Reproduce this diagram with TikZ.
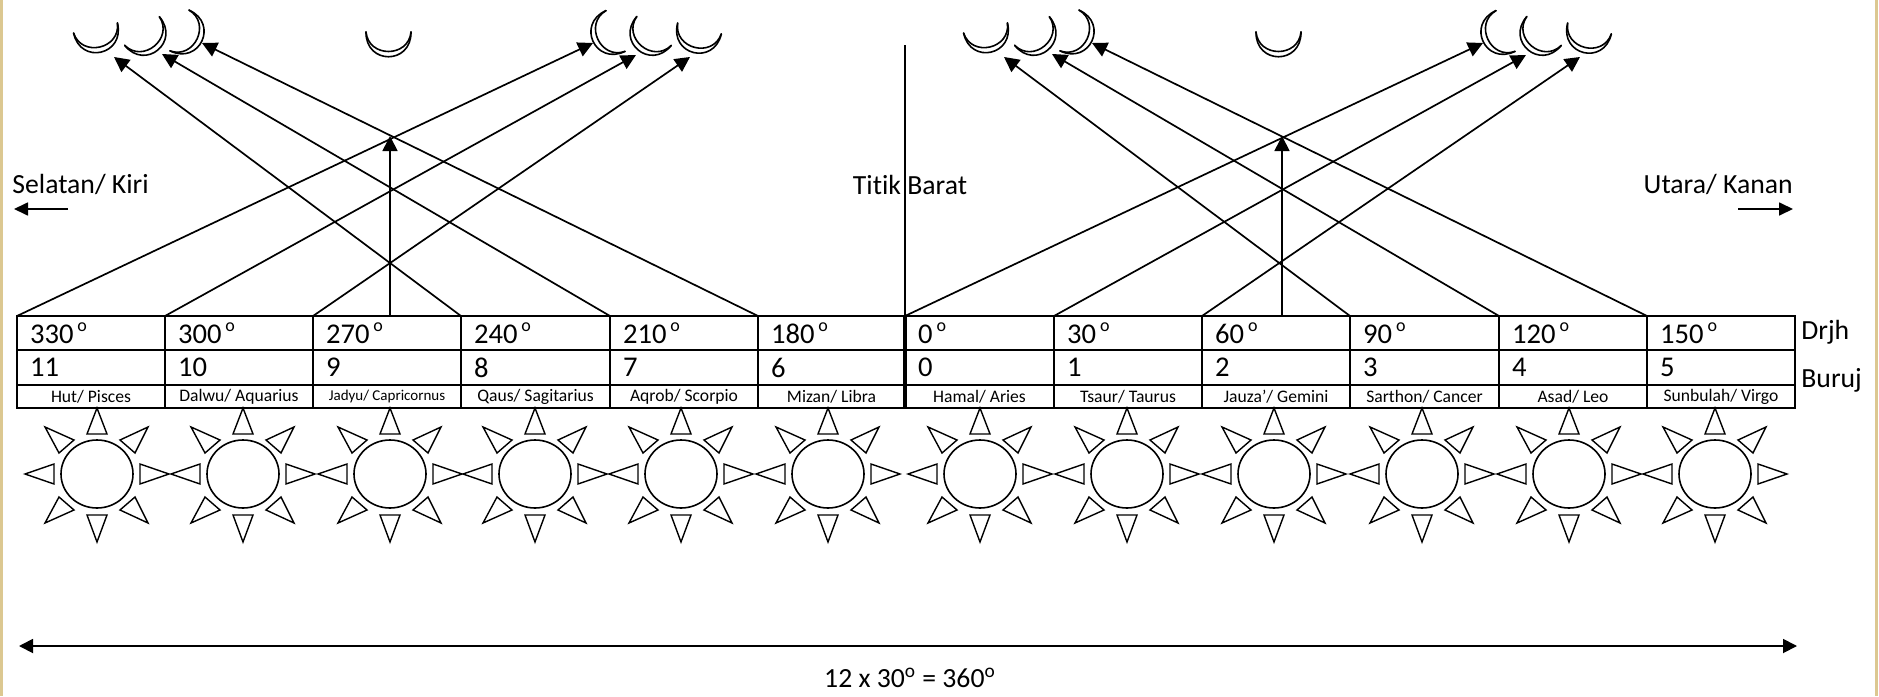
\documentclass[tikz,border=0pt]{standalone}
\usepackage{fontspec}
\setmainfont{Carlito}[Ligatures={NoCommon}]
\usetikzlibrary{arrows.meta,shapes.geometric}
\definecolor{strip}{RGB}{220,200,145}
\tikzset{
  x=0.5pt,y=-0.5pt,
  ln/.style={line width=0.85pt,black},
  arr/.style={line width=0.85pt,black,-{Triangle[length=7.5pt,width=7.5pt]}},
  gridcell/.style={draw=black,line width=1pt,anchor=north west,inner sep=0pt,outer sep=0pt,minimum width=#1*0.5pt,align=left},
  degcell/.style={gridcell=#1,minimum height=17pt,text width=#1*0.5pt-13pt,inner xsep=6.5pt,font=\fontsize{14.3}{14.3}\selectfont},
  numcell/.style={gridcell=#1,minimum height=17.5pt,text width=#1*0.5pt-13pt,inner xsep=6.5pt,font=\fontsize{14.3}{14.3}\selectfont},
  namecell/.style={gridcell=#1,minimum height=11.5pt,align=center,font=\fontsize{8.8}{8.8}\selectfont},
  lab/.style={inner sep=0pt,font=\fontsize{13.85}{13.85}\selectfont},
  ray/.style={line width=0.7pt,black,line join=miter},
  moonl/.style={line width=0.8pt,black,line cap=round},
  pics/moon/.style={code={
    \draw[moonl] (-22.5,0) .. controls (-23,33) and (23,33) .. (22.5,0);
    \draw[moonl] (-22.5,0) .. controls (-20,26) and (20,26) .. (22.5,0);
  }},
  pics/sun/.style={code={
    \node[draw=black,line width=0.8pt,ellipse,minimum width=36pt,minimum height=34pt,inner sep=0pt] (#1) at (0,0) {};
    \draw[ray] (-10,-40) -- (0,-66) -- (10,-40) -- cycle;
    \draw[ray] (-10,41) -- (0,68) -- (10,41) -- cycle;
    \draw[ray] (-43,-10) -- (-72,0) -- (-43,10) -- cycle;
    \draw[ray] (43,-10) -- (72,0) -- (43,10) -- cycle;
    \draw[ray] (-52,-47) -- (-23,-34) -- (-38,-21) -- cycle;
    \draw[ray] (51,-47) -- (23,-34) -- (38,-21) -- cycle;
    \draw[ray] (-52,49) -- (-23,36) -- (-38,23) -- cycle;
    \draw[ray] (51,49) -- (23,36) -- (38,23) -- cycle;
  }},
}
\newcommand{\dg}[1]{#1\kern2pt\raisebox{6.2pt}{\fontsize{9}{9}\selectfont o}}
\newcommand{\nmtext}[1]{\raisebox{-0.5pt}{#1}}
\begin{document}
\begin{tikzpicture}
\useasboundingbox (0,0) rectangle (1879,696);
\fill[white] (0,0) rectangle (1879,696);
\fill[strip] (0,0) rectangle (2.5,696);
\fill[strip] (1875,0) rectangle (1878,696);

% table
\foreach \nm/\xa/\w/\d/\n/\t in {
  a/17/148/330/11/{Hut/ Pisces},
  b/165/148/300/10/{Dalwu/ Aquarius},
  c/313/148/270/9/{\fontsize{7.5}{7.5}\selectfont Jadyu/ Capricornus},
  d/461/149/240/8/{Qaus/ Sagitarius},
  e/610/148/210/7/{Aqrob/ Scorpio},
  f/758/147/180/6/{Mizan/ Libra},
  g/905/149/0/0/{Hamal/ Aries},
  h/1054/148/30/1/{Tsaur/ Taurus},
  i/1202/148/60/2/{Jauza'/ Gemini},
  j/1350/149/90/3/{Sarthon/ Cancer},
  k/1499/148/120/4/{Asad/ Leo},
  l/1647/148/150/5/{Sunbulah/ Virgo}}{
  \node[degcell=\w] (deg\nm) at (\xa,316) {\dg{\d}};
  \node[numcell=\w] (num\nm) at (\xa,350) {\n};
  \node[namecell=\w] (nam\nm) at (\xa,385) {\nmtext{\t}};
}

% suns
\foreach \nm/\xa in {a/97,b/243,c/390,d/535,e/681,f/828,g/980,h/1127,i/1274,j/1422,k/1569,l/1715}{
  \pic at (\xa,474) {sun=sun\nm};
}

% moons
\foreach \nm/\xa/\ya/\r in {
  ma/95.5/28/-13, mb/142/31/-39.5, mc/179.5/30.5/-65, md/388.5/32/0,
  me/615.5/31/65, mf/654/31/40, mg/699.5/28.5/14,
  na/985.5/28/-13, nb/1032/31/-39.5, nc/1069.5/30.5/-65, nd/1278.5/32/0,
  ne/1505.5/31/65, nf/1544/31/40, ng/1589.5/28.5/14}{
  \pic[rotate=-\r] at (\xa,\ya) {moon};
}

% arrow tips under the moons
\foreach \nm/\xa/\ya in {
  ta/114/57, tb/162/54, tc/202/43, td/390/136, te/593/43, tf/636/55, tg/690/57,
  ua/1004/57, ub/1052/54, uc/1092/43, ud/1282/136, ue/1483/43, uf/1526/55, ug/1580/57}{
  \coordinate (\nm) at (\xa,\ya);
}
\draw[arr] (degd.north west) -- (ta);
\draw[arr] (dege.north west) -- (tb);
\draw[arr] (degf.north west) -- (tc);
\draw[arr] (390,316) -- (td);
\draw[arr] (dega.north west) -- (te);
\draw[arr] (degb.north west) -- (tf);
\draw[arr] (degc.north west) -- (tg);
\draw[arr] (degj.north west) -- (ua);
\draw[arr] (degk.north west) -- (ub);
\draw[arr] (degl.north west) -- (uc);
\draw[arr] (1282,316) -- (ud);
\draw[arr] (degg.north west) -- (ue);
\draw[arr] (degh.north west) -- (uf);
\draw[arr] (degi.north west) -- (ug);

% centre line
\coordinate (ctop) at (905,45);
\draw[ln] (ctop) -- (degg.north west);
\draw[line width=1.8pt] (degg.north west) -- (namg.south west);

% labels
\node[lab,anchor=west] (sel) at (12,184) {Selatan/ Kiri};
\node[lab,anchor=east] (uta) at (1793,184) {Utara/ Kanan};
\node[lab] (tit) at (910,185) {Titik Barat};
\node[lab,anchor=west] (drj) at (1801,332) {Drjh};
\node[lab,anchor=west] (bur) at (1801,380) {Buruj};
\node[lab] (tot) at (910,678) {12 x 30\textsuperscript{o} = 360\textsuperscript{o}};

\coordinate (sa) at (68,209); \coordinate (sb) at (14,209);
\coordinate (ua1) at (1738,209); \coordinate (ub1) at (1793,209);
\coordinate (wl) at (19,646); \coordinate (wr) at (1797,646);
\draw[line width=0.85pt,-{Triangle[length=7pt,width=6.5pt]}] (sa) -- (sb);
\draw[line width=0.85pt,-{Triangle[length=7pt,width=6.5pt]}] (ua1) -- (ub1);
\draw[line width=0.9pt,{Triangle[length=7pt,width=7pt]}-{Triangle[length=7pt,width=7pt]}] (wl) -- (wr);
\end{tikzpicture}
\end{document}
